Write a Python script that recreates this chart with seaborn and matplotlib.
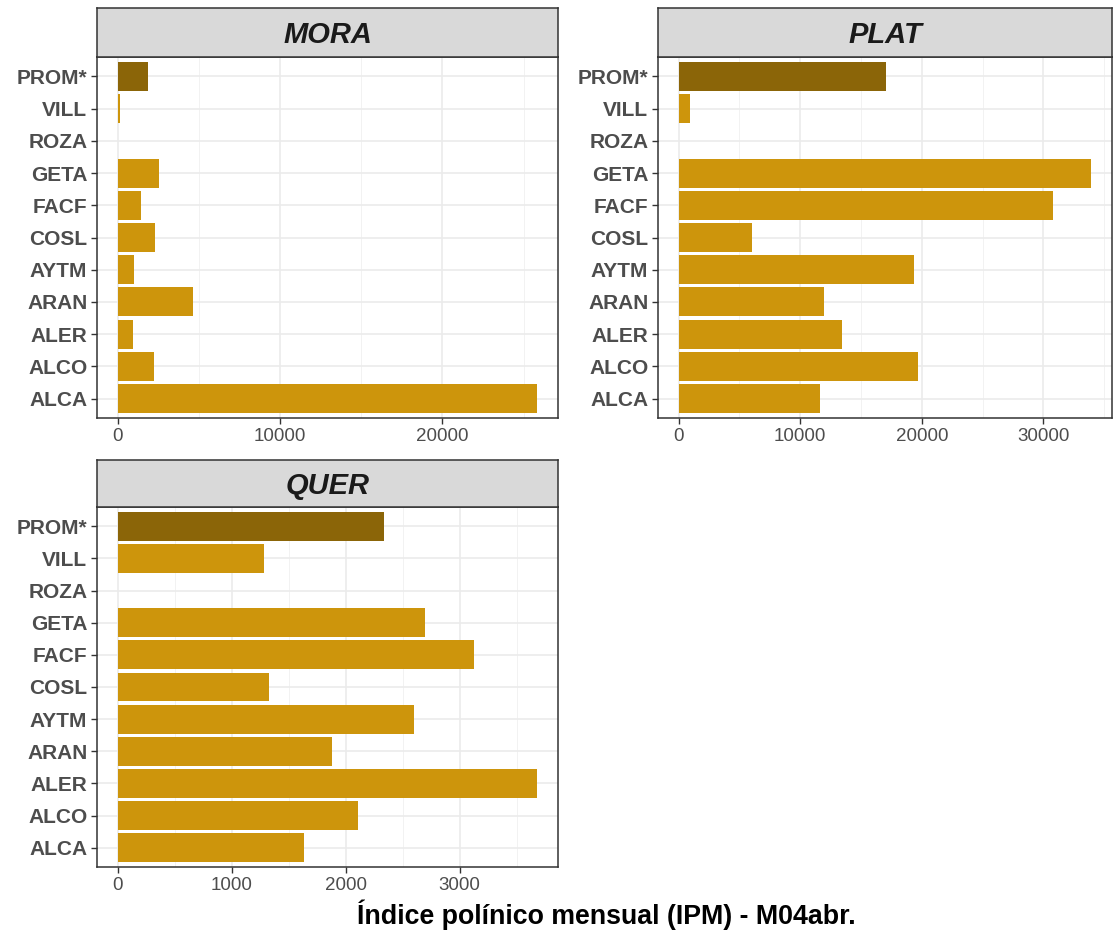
import numpy as np
import pandas as pd
import matplotlib
matplotlib.use("Agg")
import matplotlib.pyplot as plt
import seaborn as sns
from matplotlib.ticker import MultipleLocator

sns.set_theme(style="white")
plt.rcParams["font.family"] = ["Liberation Sans", "DejaVu Sans"]

# data
stations = ["PROM*", "VILL", "ROZA", "GETA", "FACF", "COSL",
            "AYTM", "ARAN", "ALER", "ALCO", "ALCA"]
mora = [1860, 110, 0, 2500, 1430, 2260, 970, 4600, 900, 2220, 25830]
plat = [17050, 970, 0, 33950, 30820, 6050, 19400, 11990, 13440, 19720, 11590]
quer = [2340, 1285, 0, 2700, 3125, 1325, 2600, 1880, 3680, 2110, 1630]
taxa = ["MORA", "PLAT", "QUER"]
major_step = {"MORA": 10000, "PLAT": 10000, "QUER": 1000}

df = pd.concat([
    pd.DataFrame({"taxon": t, "station": stations, "ipm": v})
    for t, v in zip(taxa, [mora, plat, quer])
], ignore_index=True)

bar_col = "#CD950C"
prom_col = "#8B6508"
pal = {s: (prom_col if s == "PROM*" else bar_col) for s in stations}

W, H = 1113, 932
fig = plt.figure(figsize=(W / 100, H / 100), dpi=100)

# panel boxes in pixels: left, right, strip top, strip bottom, panel bottom
boxes = {
    "MORA": (97, 558, 8, 57, 418),
    "PLAT": (658, 1112, 8, 57, 418),
    "QUER": (97, 558, 460, 507, 867),
}

for t in taxa:
    l, r, st, sb, pb = boxes[t]
    ax = fig.add_axes([l / W, 1 - pb / H, (r - l) / W, (pb - sb) / H])
    sub = df[df["taxon"] == t]
    sns.barplot(data=sub, x="ipm", y="station", hue="station", order=stations,
                hue_order=stations, palette=pal, legend=False, width=0.9,
                ax=ax, saturation=1, edgecolor="none")
    vmax = sub["ipm"].max()
    ax.set_xlim(-0.05 * vmax, 1.05 * vmax)
    ax.set_ylim(len(stations) - 0.4, -0.6)
    step = major_step[t]
    ax.xaxis.set_major_locator(MultipleLocator(step))
    ax.xaxis.set_minor_locator(MultipleLocator(step / 2))
    ax.set_axisbelow(True)
    ax.grid(True, which="major", color="#EBEBEB", lw=1.2)
    ax.grid(True, which="minor", axis="x", color="#F2F2F2", lw=0.7)
    for sp in ax.spines.values():
        sp.set_color("#333333")
        sp.set_linewidth(1.1)
    ax.tick_params(axis="both", which="major", length=4, width=1,
                   color="#333333", left=True, bottom=True, pad=3)
    ax.tick_params(axis="x", which="minor", length=0)
    ax.tick_params(axis="x", labelsize=13.5, labelcolor="#4D4D4D")
    ax.tick_params(axis="y", labelsize=15, labelcolor="#4D4D4D")
    for lab in ax.get_yticklabels():
        lab.set_fontweight("bold")
    ax.set_xlabel("")
    ax.set_ylabel("")

    # facet strip
    sax = fig.add_axes([l / W, 1 - sb / H, (r - l) / W, (sb - st) / H])
    sax.set_facecolor("#D9D9D9")
    sax.set_xticks([])
    sax.set_yticks([])
    for sp in sax.spines.values():
        sp.set_color("#333333")
        sp.set_linewidth(1.1)
    sax.text(0.5, 0.45, t, transform=sax.transAxes, ha="center", va="center",
             fontsize=21, fontweight="bold", fontstyle="italic", color="#1A1A1A")

fig.text(606 / W, 1 - 915 / H, "Índice polínico mensual (IPM) - M04abr.",
         ha="center", va="center", fontsize=19.3, fontweight="bold", color="black")

fig.savefig("out.png", dpi=100, facecolor="white")
